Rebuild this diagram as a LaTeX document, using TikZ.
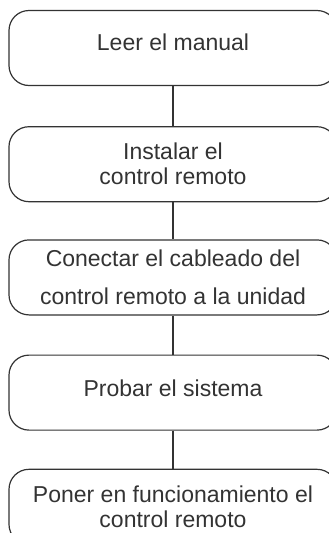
\documentclass[tikz,border=0pt]{standalone}
\usepackage{fontspec}
\setmainfont{Liberation Sans}
\usetikzlibrary{positioning}
\definecolor{inkgray}{HTML}{333333}
\tikzset{
  stepbox/.style={draw=inkgray,line width=1.2pt,rounded corners=20pt,align=center,
    minimum width=328pt,minimum height=75pt,inner sep=2pt,text=inkgray},
  onerow/.style={stepbox,text height=17pt},
  link/.style={draw=inkgray,line width=1.2pt}
}

\begin{document}
\begin{tikzpicture}[x=1pt,y=-1pt,node distance=38pt,font=\fontsize{23}{25}\selectfont]
\useasboundingbox (0,0) rectangle (329,533);
\clip (0,0) rectangle (329,533);
\node[onerow,text depth=12pt] (leer) at (173,48) {Leer el manual};
\node[stepbox,below=40pt of leer] (instalar) {Instalar el\\control remoto};
\node[stepbox,below=37pt of instalar] (conectar) {Conectar el cableado del\\[13pt]control remoto a la unidad};
\node[onerow,text depth=9pt,below=39pt of conectar] (probar) {Probar el sistema};
\node[stepbox,below=of probar] (poner) {Poner en funcionamiento el\\control remoto};
\draw[link] (leer) -- (instalar);
\draw[link] (instalar) -- (conectar);
\draw[link] (conectar) -- (probar);
\draw[link] (probar) -- (poner);
\end{tikzpicture}
\end{document}
